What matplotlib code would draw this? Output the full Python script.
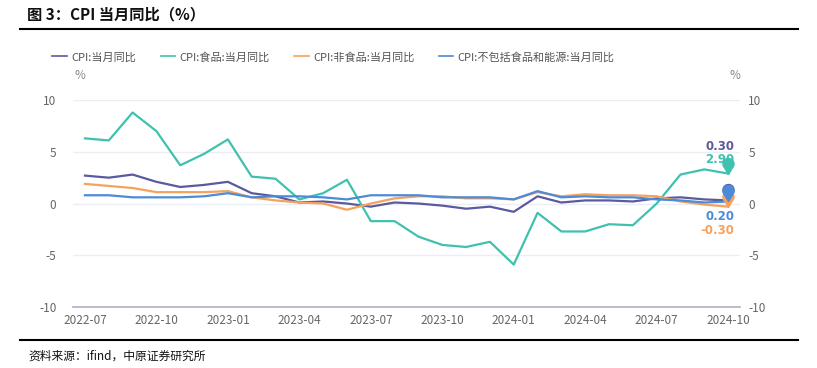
import numpy as np
import matplotlib
matplotlib.use("Agg")
import matplotlib.pyplot as plt
from matplotlib.path import Path

plt.rcParams['font.family'] = ['Noto Sans CJK SC', 'DejaVu Sans']
plt.rcParams['axes.unicode_minus'] = False

# 月份 2022-07 .. 2024-10
months = ['2022-07', '2022-08', '2022-09', '2022-10', '2022-11', '2022-12',
          '2023-01', '2023-02', '2023-03', '2023-04', '2023-05', '2023-06',
          '2023-07', '2023-08', '2023-09', '2023-10', '2023-11', '2023-12',
          '2024-01', '2024-02', '2024-03', '2024-04', '2024-05', '2024-06',
          '2024-07', '2024-08', '2024-09', '2024-10']

cpi = [2.7, 2.5, 2.8, 2.1, 1.6, 1.8, 2.1, 1.0, 0.7, 0.1, 0.2, 0.0,
       -0.3, 0.1, 0.0, -0.2, -0.5, -0.3, -0.8, 0.7, 0.1, 0.3, 0.3, 0.2,
       0.5, 0.6, 0.4, 0.3]
food = [6.3, 6.1, 8.8, 7.0, 3.7, 4.8, 6.2, 2.6, 2.4, 0.4, 1.0, 2.3,
        -1.7, -1.7, -3.2, -4.0, -4.2, -3.7, -5.9, -0.9, -2.7, -2.7, -2.0, -2.1,
        0.0, 2.8, 3.3, 2.9]
nonfood = [1.9, 1.7, 1.5, 1.1, 1.1, 1.1, 1.2, 0.6, 0.3, 0.1, 0.0, -0.6,
           0.0, 0.5, 0.7, 0.7, 0.5, 0.5, 0.4, 1.1, 0.7, 0.9, 0.8, 0.8,
           0.7, 0.2, -0.1, -0.3]
core = [0.8, 0.8, 0.6, 0.6, 0.6, 0.7, 1.0, 0.6, 0.7, 0.7, 0.6, 0.4,
        0.8, 0.8, 0.8, 0.6, 0.6, 0.6, 0.4, 1.2, 0.6, 0.7, 0.6, 0.6,
        0.4, 0.3, 0.1, 0.2]

names = ['CPI:当月同比', 'CPI:食品:当月同比', 'CPI:非食品:当月同比', 'CPI:不包括食品和能源:当月同比']
colors = ['#5b5a9f', '#3fc1ae', '#f5a25d', '#4b8bd8']
series = [cpi, food, nonfood, core]

x = np.arange(len(months))

fig = plt.figure(figsize=(8.17, 3.68), dpi=100)
ax = fig.add_axes([0.0894, 0.1658, 0.8164, 0.5622])

for s, c, n in zip(series, colors, names):
    ax.plot(x, s, color=c, lw=1.6, label=n, zorder=3)

# 图钉标记 (尖端在数据点)
t = np.linspace(-0.25 * np.pi, 1.25 * np.pi, 30)
verts = [(0, 0)] + [(np.cos(a), 1.9 + np.sin(a)) for a in t] + [(0, 0)]
pin = Path(verts)
for s, c in [(cpi, colors[0]), (nonfood, colors[2]), (core, colors[3]), (food, colors[1])]:
    ax.plot(x[-1], s[-1], marker=pin, markersize=23, color=c, lw=0, zorder=4)

# 末值标签
label_offsets = [54, 14, -24, -15]
for s, c, off in zip(series, colors, label_offsets):
    ax.annotate(f'{s[-1]:.2f}', xy=(x[-1], s[-1]), xytext=(6, off),
                textcoords='offset pixels', ha='right', va='center',
                fontsize=8.5, fontweight='bold', color=c, family='DejaVu Sans', zorder=3.5)

ax.set_xlim(-0.5, len(months) - 0.5)
ax.set_ylim(-10, 10)
ax.set_yticks([-10, -5, 0, 5, 10])
ax.set_xticks(x[::3])
ax.set_xticklabels(months[::3])
ax.grid(axis='y', color='#eceef5', lw=1)
ax.set_axisbelow(True)
for sp in ['top', 'right', 'left']:
    ax.spines[sp].set_visible(False)
ax.spines['bottom'].set_color('#aeb0c8')
ax.spines['bottom'].set_linewidth(1.2)
ax.tick_params(axis='both', length=0, labelsize=8.5, colors='#666666')
ax.tick_params(axis='x', pad=5)
ax.tick_params(axis='y', pad=12)

ax2 = ax.twinx()
ax2.set_ylim(-10, 10)
ax2.set_yticks([-10, -5, 0, 5, 10])
for sp in ax2.spines.values():
    sp.set_visible(False)
ax2.tick_params(axis='y', length=0, labelsize=8.5, colors='#666666', pad=6)

fig.text(0.098, 0.795, '%', fontsize=8.5, color='#888888', ha='center', va='center')
fig.text(0.900, 0.795, '%', fontsize=8.5, color='#888888', ha='center', va='center')

leg = fig.legend(loc='center left', bbox_to_anchor=(0.052, 0.845), ncol=4, frameon=False,
                 fontsize=8, handlelength=1.3, handletextpad=0.4, columnspacing=2.2)
for txt in leg.get_texts():
    txt.set_color('#555555')
for h in leg.legend_handles:
    h.set_linewidth(1.2)

fig.text(0.033, 0.962, '图 3：CPI 当月同比（%）', fontsize=11, fontweight='heavy',
         ha='left', va='center', color='#111111')
fig.add_artist(plt.Line2D([0.025, 0.977], [0.922, 0.922], color='black', lw=1.5,
                          transform=fig.transFigure))
fig.add_artist(plt.Line2D([0.025, 0.977], [0.076, 0.076], color='black', lw=1.5,
                          transform=fig.transFigure))
fig.text(0.035, 0.033, '资料来源：ifind，中原证券研究所', fontsize=8.5, ha='left',
         va='center', color='#111111')

fig.savefig('out.png', dpi=100)
